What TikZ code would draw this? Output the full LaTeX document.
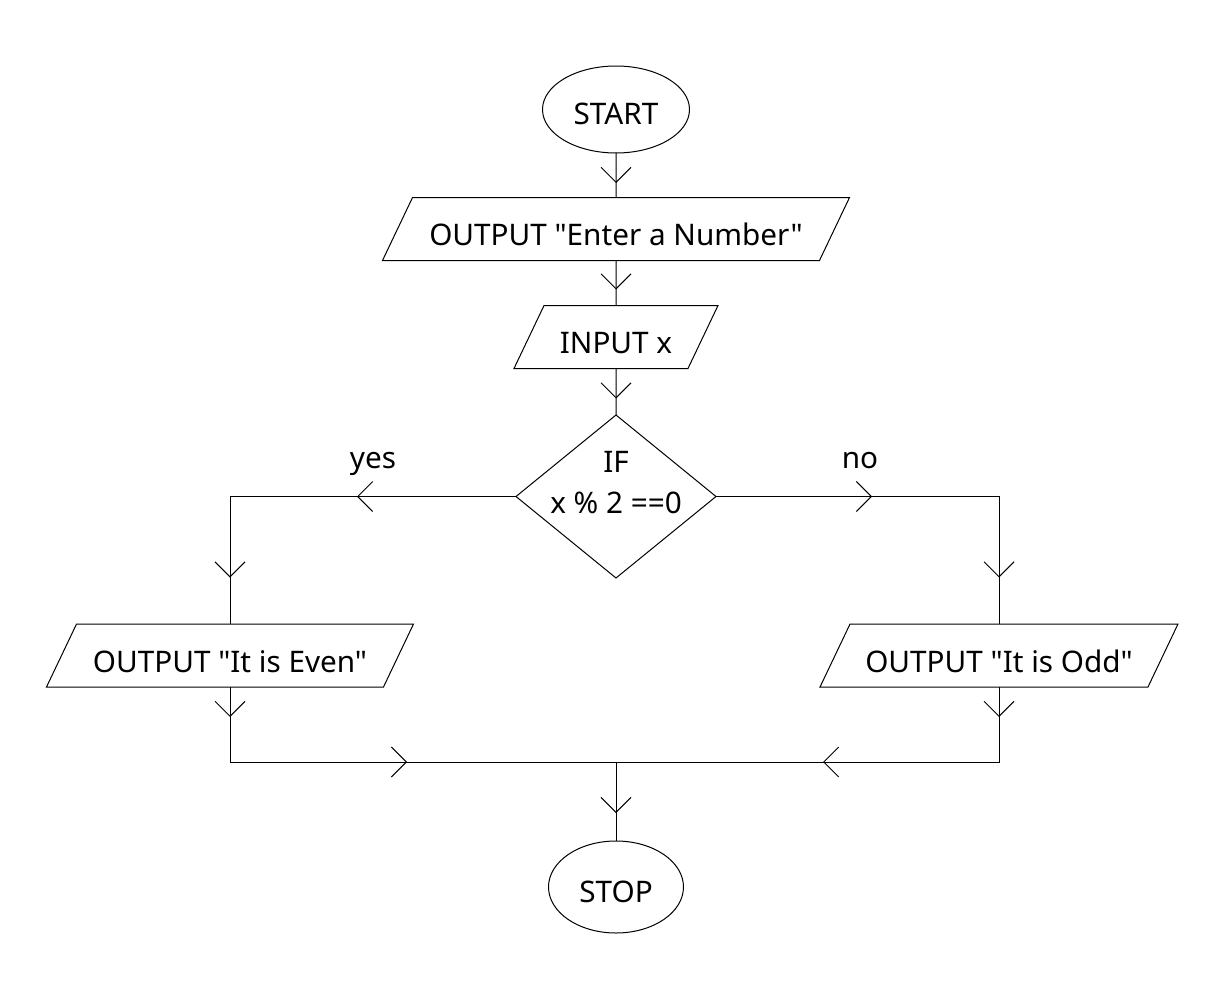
\documentclass[tikz,border=0pt]{standalone}
\usepackage{fontspec}
\setmainfont{Noto Sans}[Ligatures=TeXOff]
\usetikzlibrary{shapes.geometric,arrows.meta,decorations.markings}
\begin{document}
\begin{tikzpicture}[x=1pt,y=-1pt,
 every node/.style={font=\fontsize{29.7}{35}\selectfont, inner sep=0pt, outer sep=0pt},
 flow/.style={draw=black, line width=1pt},
 term/.style={flow, ellipse, text height=30pt, text depth=0pt},
 io/.style={flow, trapezium, trapezium left angle=47.7, trapezium right angle=132.3, trapezium stretches body=true, minimum height=63pt, text height=33pt, text depth=0pt},
 decision/.style={flow, diamond, minimum width=200pt, minimum height=163pt},
 conn/.style={line width=1pt},
 vmark/.style={postaction={decorate, decoration={markings, mark=at position #1 with {\arrow{Straight Barb[length=15pt,width=30pt,line width=1pt]}}}}},
 lab/.style={anchor=base},
]
\fill[white] (0,0) rectangle (1224,993);
\useasboundingbox (0,0) rectangle (1224,993);

\node[term, minimum width=147pt, minimum height=87pt] (start) at (616,109.5) {START};
\node[io, minimum width=467pt] (enter) at (616,229) {OUTPUT "Enter a Number"};
\node[io, minimum width=204pt] (input) at (616,337) {INPUT x};
\node[decision] (dec) at (616,496.5) {};
\node[font=\fontsize{29.7}{41}\selectfont, align=center] (dtext) at (616,483) {IF\\x \% 2 ==0};
\node[io, minimum width=367pt] (even) at (230,655.5) {OUTPUT "It is Even"};
\node[io, minimum width=358pt] (odd) at (999,655.5) {OUTPUT "It is Odd"};
\coordinate (join) at (616,762);
\node[term, minimum width=135pt, minimum height=92pt] (stop) at (616,887) {STOP};
\node[lab] (yes) at (373,468) {yes};
\node[lab] (no) at (860,468) {no};

\draw[conn, vmark=30pt] (start.south) -- (enter.north);
\draw[conn, vmark=29pt] (enter.south) -- (input.north);
\draw[conn, vmark=30pt] (input.south) -- (dec.north);
\draw[conn, vmark=159pt, vmark=367pt] (dec.west) -| (even.north);
\draw[conn, vmark=156pt, vmark=364pt] (dec.east) -| (odd.north);
\draw[conn, vmark=30pt, vmark=252pt] (even.south) |- (join);
\draw[conn, vmark=30pt, vmark=251pt] (odd.south) |- (join);
\draw[conn, vmark=51pt] (join) -- (stop.north);
\end{tikzpicture}
\end{document}
